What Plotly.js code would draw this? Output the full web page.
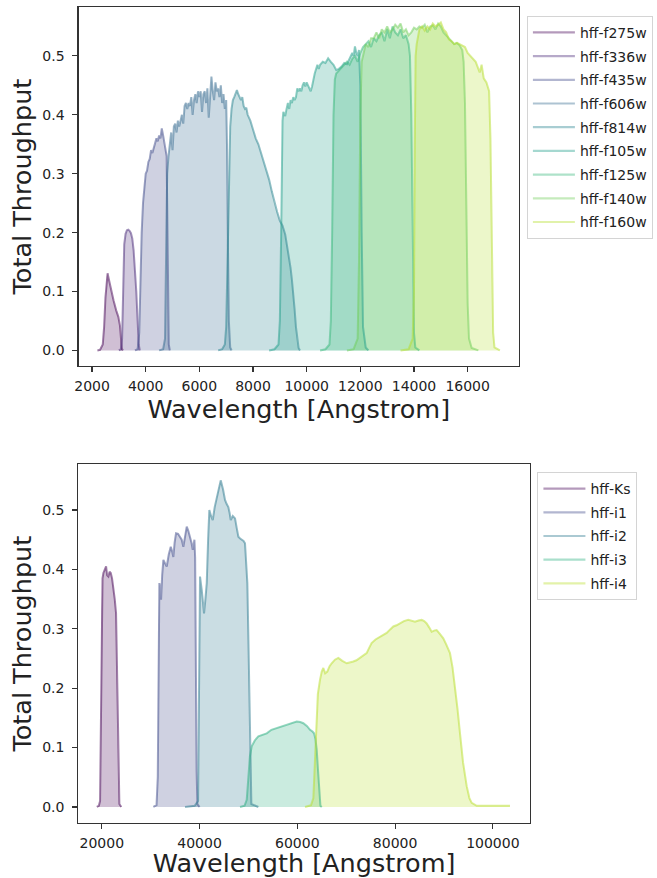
<!DOCTYPE html>
<html>
<head>
<meta charset="utf-8">
<script src="https://cdn.plot.ly/plotly-3.0.1.min.js"></script>
<style>html,body{margin:0;padding:0;background:#fff;}#chart{width:657px;height:878px;}</style>
</head>
<body>
<div id="chart"></div>
<script>
// ---- Data: [wavelength (Angstrom), total throughput] ----
const hff_f275w = [[2200,0],[2300,0.001],[2400,0.01],[2450,0.04],[2500,0.09],[2550,0.125],[2580,0.131],[2620,0.122],[2700,0.104],[2800,0.085],[2900,0.068],[2980,0.057],[3040,0.042],[3080,0.015],[3110,0.003],[3150,0]];
const hff_f336w = [[3000,0],[3080,0.002],[3120,0.02],[3160,0.1],[3200,0.18],[3250,0.198],[3300,0.204],[3350,0.205],[3400,0.203],[3450,0.199],[3500,0.19],[3550,0.17],[3600,0.14],[3650,0.1],[3700,0.05],[3740,0.01],[3780,0]];
const hff_f435w = [[3600,0],[3700,0.002],[3760,0.03],[3800,0.12],[3850,0.2],[3900,0.25],[3950,0.28],[4000,0.3],[4050,0.305],[4100,0.32],[4150,0.325],[4200,0.34],[4250,0.335],[4300,0.345],[4350,0.35],[4400,0.36],[4450,0.355],[4500,0.365],[4550,0.36],[4600,0.377],[4650,0.365],[4700,0.35],[4750,0.34],[4780,0.33],[4800,0.25],[4830,0.08],[4860,0.01],[4900,0]];
const hff_f606w = [[4500,0],[4650,0.002],[4720,0.02],[4760,0.15],[4800,0.3],[4850,0.33],[4900,0.35],[4950,0.37],[5000,0.34],[5050,0.38],[5100,0.385],[5150,0.37],[5200,0.39],[5250,0.38],[5300,0.39],[5350,0.4],[5400,0.385],[5450,0.415],[5500,0.42],[5550,0.41],[5600,0.42],[5650,0.415],[5700,0.43],[5750,0.4],[5800,0.425],[5850,0.435],[5900,0.42],[5950,0.44],[6000,0.43],[6050,0.44],[6100,0.405],[6150,0.435],[6200,0.44],[6250,0.42],[6300,0.445],[6350,0.395],[6400,0.43],[6450,0.465],[6500,0.44],[6550,0.425],[6600,0.455],[6650,0.44],[6700,0.445],[6750,0.43],[6800,0.45],[6850,0.42],[6900,0.435],[6950,0.41],[7000,0.425],[7030,0.35],[7060,0.2],[7100,0.05],[7150,0.005],[7200,0]];
const hff_f814w = [[6700,0],[6850,0.002],[6950,0.01],[7000,0.04],[7050,0.15],[7100,0.3],[7150,0.38],[7200,0.41],[7250,0.425],[7300,0.43],[7350,0.435],[7400,0.442],[7450,0.435],[7500,0.43],[7550,0.425],[7600,0.43],[7650,0.415],[7700,0.41],[7750,0.412],[7800,0.4],[7850,0.395],[7900,0.39],[8000,0.375],[8100,0.36],[8200,0.35],[8300,0.335],[8400,0.32],[8500,0.305],[8600,0.29],[8700,0.27],[8800,0.25],[8900,0.235],[9000,0.22],[9100,0.212],[9200,0.197],[9300,0.17],[9400,0.14],[9450,0.12],[9500,0.1],[9550,0.07],[9600,0.04],[9650,0.015],[9700,0.004],[9750,0]];
const hff_f105w = [[8600,0],[8800,0.002],[8950,0.01],[9000,0.05],[9050,0.2],[9080,0.35],[9100,0.39],[9130,0.405],[9200,0.398],[9250,0.41],[9300,0.42],[9350,0.41],[9400,0.425],[9450,0.42],[9500,0.43],[9550,0.425],[9600,0.43],[9650,0.445],[9700,0.44],[9750,0.445],[9800,0.44],[9850,0.45],[9900,0.455],[9950,0.448],[10000,0.455],[10050,0.45],[10100,0.445],[10150,0.44],[10200,0.448],[10250,0.46],[10300,0.47],[10400,0.485],[10450,0.478],[10500,0.485],[10600,0.49],[10700,0.488],[10800,0.496],[10900,0.49],[11000,0.485],[11100,0.476],[11200,0.478],[11300,0.482],[11400,0.488],[11500,0.486],[11600,0.495],[11700,0.505],[11750,0.5],[11800,0.516],[11850,0.505],[11900,0.5],[11950,0.51],[12000,0.45],[12050,0.2],[12100,0.04],[12200,0.005],[12300,0]];
const hff_f125w = [[10500,0],[10700,0.002],[10850,0.01],[10900,0.05],[10950,0.2],[11000,0.4],[11050,0.46],[11100,0.47],[11200,0.475],[11300,0.48],[11400,0.485],[11500,0.49],[11600,0.485],[11700,0.495],[11800,0.5],[11900,0.49],[12000,0.505],[12100,0.515],[12200,0.52],[12300,0.525],[12400,0.515],[12500,0.53],[12600,0.525],[12700,0.535],[12800,0.54],[12900,0.525],[13000,0.545],[13100,0.53],[13200,0.55],[13300,0.54],[13400,0.535],[13500,0.545],[13600,0.53],[13700,0.535],[13800,0.52],[13850,0.5],[13900,0.4],[13950,0.15],[14000,0.03],[14050,0.005],[14200,0]];
const hff_f140w = [[11500,0],[11750,0.002],[11900,0.02],[11950,0.15],[12000,0.4],[12050,0.49],[12100,0.5],[12200,0.52],[12300,0.515],[12400,0.53],[12500,0.53],[12600,0.54],[12700,0.53],[12800,0.545],[12900,0.54],[13000,0.55],[13100,0.54],[13200,0.545],[13300,0.553],[13400,0.548],[13500,0.555],[13600,0.54],[13700,0.545],[13800,0.535],[13900,0.54],[14000,0.548],[14100,0.545],[14200,0.55],[14300,0.548],[14400,0.553],[14500,0.54],[14600,0.55],[14700,0.552],[14800,0.545],[14900,0.555],[15000,0.55],[15100,0.54],[15200,0.535],[15300,0.53],[15400,0.525],[15500,0.52],[15600,0.522],[15700,0.518],[15800,0.51],[15850,0.49],[15900,0.42],[15950,0.25],[16000,0.08],[16050,0.02],[16150,0.004],[16400,0]];
const hff_f160w = [[13500,0],[13800,0.002],[13950,0.02],[14000,0.1],[14030,0.35],[14060,0.5],[14100,0.52],[14200,0.545],[14300,0.55],[14400,0.543],[14500,0.55],[14600,0.545],[14700,0.555],[14800,0.55],[14900,0.553],[15000,0.557],[15100,0.545],[15200,0.54],[15300,0.528],[15400,0.525],[15500,0.52],[15600,0.522],[15700,0.52],[15800,0.518],[15900,0.515],[16000,0.505],[16100,0.5],[16200,0.495],[16300,0.49],[16400,0.478],[16450,0.472],[16520,0.485],[16600,0.462],[16700,0.455],[16800,0.44],[16850,0.36],[16900,0.15],[16950,0.03],[17000,0.005],[17200,0]];

const hff_Ks = [[18980,0],[19400,0.002],[19650,0.01],[19800,0.15],[19950,0.33],[20150,0.385],[20330,0.394],[20600,0.4],[20880,0.405],[21100,0.39],[21350,0.388],[21600,0.396],[21840,0.394],[22100,0.385],[22370,0.371],[22650,0.35],[22920,0.326],[23050,0.25],[23190,0.169],[23400,0.06],[23600,0.005],[24000,0]];
const hff_i1 = [[30550,0],[31200,0.003],[31450,0.05],[31600,0.3],[31780,0.377],[31950,0.37],[32130,0.349],[32350,0.39],[32600,0.416],[32950,0.41],[33290,0.405],[33700,0.425],[34110,0.438],[34400,0.43],[34640,0.421],[34900,0.445],[35190,0.461],[35600,0.46],[36010,0.455],[36350,0.45],[36690,0.438],[37050,0.46],[37380,0.472],[37700,0.465],[38060,0.455],[38350,0.445],[38610,0.433],[38800,0.442],[38950,0.45],[39100,0.42],[39220,0.25],[39400,0.06],[39560,0.005],[40000,0]];
const hff_i2 = [[37030,0],[39000,0.002],[39700,0.01],[39900,0.2],[40100,0.388],[40450,0.365],[40700,0.34],[40920,0.326],[41200,0.35],[41470,0.377],[41750,0.45],[42000,0.5],[42350,0.49],[42700,0.483],[43100,0.505],[43520,0.522],[43950,0.538],[44330,0.55],[44800,0.535],[45210,0.517],[45550,0.51],[45890,0.505],[46150,0.495],[46380,0.483],[46800,0.49],[47260,0.486],[47600,0.47],[47940,0.455],[48300,0.452],[48630,0.45],[49000,0.448],[49300,0.444],[49550,0.41],[49780,0.377],[50000,0.28],[50190,0.169],[50400,0.05],[50600,0.005],[52030,0]];
const hff_i3 = [[48280,0],[49200,0.002],[49650,0.012],[50000,0.05],[50300,0.085],[50670,0.102],[51300,0.112],[52030,0.119],[52900,0.122],[53740,0.124],[54700,0.13],[55790,0.133],[56800,0.136],[57830,0.138],[58900,0.142],[59880,0.144],[60600,0.143],[61230,0.141],[62000,0.136],[62600,0.13],[63100,0.127],[63420,0.124],[63700,0.115],[63970,0.096],[64250,0.06],[64500,0.035],[64730,0.002],[65000,0]];
const hff_i4 = [[61580,0],[62800,0.003],[63280,0.015],[63700,0.1],[64200,0.19],[64640,0.214],[65000,0.228],[65320,0.234],[65700,0.225],[66140,0.228],[66600,0.237],[67030,0.242],[67700,0.248],[68390,0.251],[69200,0.246],[70110,0.242],[70800,0.243],[71450,0.245],[72100,0.247],[72820,0.251],[73500,0.255],[74180,0.259],[74700,0.268],[75200,0.276],[76000,0.282],[76920,0.287],[77600,0.29],[78280,0.293],[79000,0.299],[79640,0.304],[80300,0.306],[81000,0.309],[81800,0.313],[82700,0.315],[83400,0.313],[84070,0.312],[84800,0.314],[85440,0.315],[85950,0.313],[86460,0.309],[87000,0.302],[87480,0.295],[88000,0.297],[88500,0.298],[89200,0.291],[89860,0.284],[90500,0.273],[91230,0.259],[91750,0.235],[92260,0.203],[92770,0.165],[93280,0.124],[93900,0.075],[94650,0.035],[95200,0.015],[95670,0.007],[96700,0.002],[100000,0.002],[103500,0.002]];

const topNames = ['hff-f275w','hff-f336w','hff-f435w','hff-f606w','hff-f814w','hff-f105w','hff-f125w','hff-f140w','hff-f160w'];
const topSeries = [hff_f275w,hff_f336w,hff_f435w,hff_f606w,hff_f814w,hff_f105w,hff_f125w,hff_f140w,hff_f160w];
const botNames = ['hff-Ks','hff-i1','hff-i2','hff-i3','hff-i4'];
const botSeries = [hff_Ks,hff_i1,hff_i2,hff_i3,hff_i4];
const topTicks = [2000,4000,6000,8000,10000,12000,14000,16000];
const botTicks = [20000,40000,60000,80000,100000];
const yTicks = [0.0,0.1,0.2,0.3,0.4,0.5];

// ---- Styles ----
const topColors = ['#440154','#482878','#3e4989','#31688e','#26828e','#1f9e89','#35b779','#6ece58','#b5de2b'];
const botColors = ['#440154','#3e4989','#2a788e','#2aae80','#b8de29'];

function rgba(hex, a){
  const r=parseInt(hex.slice(1,3),16), g=parseInt(hex.slice(3,5),16), b=parseInt(hex.slice(5,7),16);
  return `rgba(${r},${g},${b},${a})`;
}
const FONT = 'DejaVu Sans, Verdana, sans-serif';
const traces = [];
function addPanel(series, names, colors, xa, ya, leg){
  series.forEach((s,i)=>{
    traces.push({type:'scatter', mode:'none', x:s.map(p=>p[0]), y:s.map(p=>p[1]), xaxis:xa, yaxis:ya,
      fill:'tozeroy', fillcolor:rgba(colors[i],0.25), showlegend:false, hoverinfo:'skip'});
  });
  series.forEach((s,i)=>{
    traces.push({type:'scatter', mode:'lines', name:names[i], x:s.map(p=>p[0]), y:s.map(p=>p[1]), xaxis:xa, yaxis:ya,
      line:{color:rgba(colors[i],0.5), width:2}, showlegend:false, hoverinfo:'skip'});
  });
  // legend entries (lighter line sample, as in the reference legend)
  series.forEach((s,i)=>{
    traces.push({type:'scatter', mode:'lines', name:names[i], x:[null], y:[null], xaxis:xa, yaxis:ya,
      line:{color:rgba(colors[i],0.4), width:2.2}, legend:leg, legendgroup:leg+names[i]});
  });
}
addPanel(topSeries, topNames, topColors, 'x', 'y', 'legend');
addPanel(botSeries, botNames, botColors, 'x2', 'y2', 'legend2');

const TITLE_FONT = {family:FONT, size:25.5, color:'#222'};
const axCommon = {showline:true, mirror:true, linecolor:'#333', linewidth:1.1, ticks:'outside', ticklen:5, tickwidth:1.1, tickcolor:'#333',
  showgrid:false, zeroline:false, tickfont:{family:FONT, size:14, color:'#222'}};
const legCommon = {xanchor:'left', yanchor:'top', bgcolor:'rgba(255,255,255,0.9)', bordercolor:'#d4d4d4', borderwidth:1,
  font:{family:FONT, size:14, color:'#222'}, traceorder:'grouped', tracegroupgap:2.5, itemwidth:42};

const layout = {
  width:657, height:878, margin:{l:0,r:0,t:0,b:0}, paper_bgcolor:'#fff', plot_bgcolor:'#fff', showlegend:true,
  font:{family:FONT},
  xaxis:Object.assign({}, axCommon, {domain:[0.1195,0.790], range:[1496,17915], anchor:'y', tickvals:topTicks, tickformat:'d', ticklabelstandoff:2,
    title:{text:'Wavelength [Angstrom]', font:TITLE_FONT, standoff:4}}),
  yaxis:Object.assign({}, axCommon, {domain:[0.583,0.992], range:[-0.0267,0.583], anchor:'x', tickvals:yTicks, tickformat:'.1f', ticklabelstandoff:5,
    title:{text:'Total Throughput', font:TITLE_FONT, standoff:3}}),
  xaxis2:Object.assign({}, axCommon, {domain:[0.1192,0.8067], range:[15200,107600], anchor:'y2', tickvals:botTicks, tickformat:'d', ticklabelstandoff:2,
    title:{text:'Wavelength [Angstrom]', font:TITLE_FONT, standoff:5}}),
  yaxis2:Object.assign({}, axCommon, {domain:[0.0623,0.4715], range:[-0.0275,0.5775], anchor:'x2', tickvals:yTicks, tickformat:'.1f', ticklabelstandoff:5,
    title:{text:'Total Throughput', font:TITLE_FONT, standoff:3}}),
  legend:Object.assign({}, legCommon, {x:0.802, y:0.982}),
  legend2:Object.assign({}, legCommon, {x:0.818, y:0.4624})
};
Plotly.newPlot('chart', traces, layout, {staticPlot:true});
</script>
</body>
</html>
